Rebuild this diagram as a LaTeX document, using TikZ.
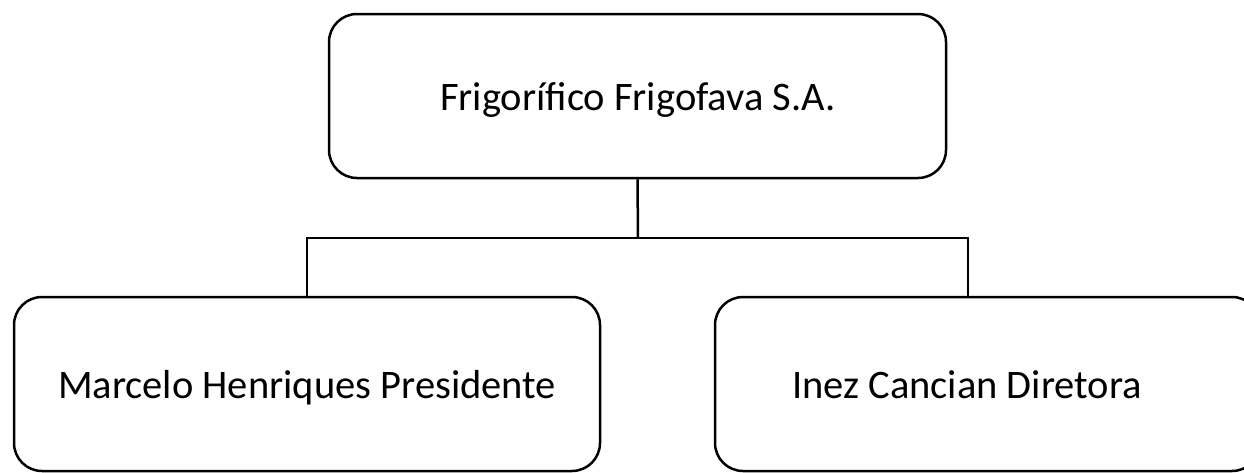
\documentclass[tikz,border=0pt]{standalone}
\usepackage{fontspec}
\setmainfont{Carlito}
\begin{document}
\begin{tikzpicture}[x=1pt,y=1pt,
  box/.style={draw=black,line width=2.5pt,rounded corners=28pt,inner sep=0pt},
  lbl/.style={font=\fontsize{40.5}{48}\selectfont,inner sep=0pt,anchor=base},
  conn/.style={draw=black,line width=2.5pt}]
\useasboundingbox (0,0) rectangle (1244,-472);
\clip (0,0) rectangle (1244,-472);
\fill[white] (0,0) rectangle (1244,-472);
\node[box,minimum width=617pt,minimum height=164pt] (t) at (637.5,-96) {};
\node[lbl] (tt) at (638,-110) {Frigorífico Frigofava S.A.};
\node[box,minimum width=586pt,minimum height=174pt] (l) at (307,-384) {};
\node[lbl] (lt) at (307,-398) {Marcelo Henriques Presidente};
\node[box,minimum width=545pt,minimum height=174pt] (r) at (987.5,-384) {};
\node[lbl] (rt) at (967,-398) {Inez Cancian Diretora};
\coordinate (rj) at (968,-297);
\coordinate (j) at (638,-238);
\draw[conn] (t.south) -- (j);
\draw[conn] (l.north) |- (j) -| (rj);
\end{tikzpicture}
\end{document}
